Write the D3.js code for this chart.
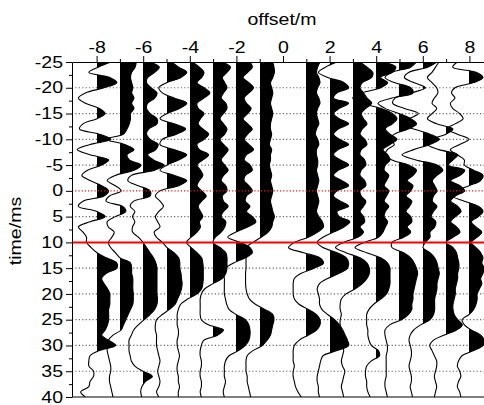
<!DOCTYPE html>
<html>
<head>
<meta charset="UTF-8">
<title>offset / time wiggle plot</title>
<script src="https://cdn.jsdelivr.net/npm/d3@7"></script>
<style>
  body { margin: 0; background: #fff; }
  svg text { font-family: "Liberation Sans", Arial, Helvetica, sans-serif; }
</style>
</head>
<body>
<svg id="chart" width="484" height="405"></svg>
<script>
// sample grid: one value per ms, starting at -25 ms
var tStart = -25, tStep = 1;

// trace offsets (m)
var offsets = [-8, -7, -6, -5, -4, -3, -2, -1, 1, 2, 3, 4, 5, 6, 7, 8];

// amplitudes, in offset units, t = -25 .. 40 ms
var trM8 = [0.6,0.05,-0.35,0.55,0.85,0.3,-0.5,-0.8,-0.5,0.1,
  0.35,0.0,-0.6,-0.75,0.1,0.6,-0.3,-0.85,-0.3,0.5,
  0.2,-0.4,-0.65,-0.3,0.2,0.5,0.3,-0.6,-0.8,0.0,
  0.35,-0.3,-0.8,-0.6,-0.45,-0.45,-0.25,0.0,0.4,0.85,
  0.85,0.4,0.2,0.3,0.45,0.55,0.55,0.55,0.5,0.5,
  0.5,0.45,0.35,0.2,0.5,0.8,0.1,-0.3,-0.35,-0.35,
  -0.15,-0.15,-0.3,-0.35,-0.7,-0.5];
var trM7 = [0.7,0.65,0.5,0.45,0.5,0.55,0.5,0.6,0.5,0.6,
  0.45,0.45,0.4,0.3,0.15,-0.6,0.2,0.6,0.3,0.4,
  0.9,0.6,-0.2,-0.55,-0.2,0.05,-0.45,-0.6,0.1,0.25,
  -0.2,-0.55,-0.5,-0.25,-0.35,-0.5,-0.4,-0.2,0.0,0.45,
  0.5,0.5,0.55,0.55,0.55,0.57,0.57,0.55,0.45,0.35,
  0.25,0.15,0.05,-0.3,-0.5,-0.55,-0.55,-0.5,-0.45,-0.4,
  -0.4,-0.45,-0.45,-0.4,-0.35,-0.3];
var trM6 = [0.3,0.7,0.5,0.2,0.15,0.35,0.6,0.5,0.2,0.15,
  0.3,0.6,0.6,0.25,0.15,0.3,0.65,0.55,0.2,0.45,
  0.9,0.5,-0.5,-0.65,-0.2,0.3,0.3,-0.4,-0.55,-0.35,
  -0.45,-0.35,-0.45,-0.45,-0.2,0.0,0.15,0.3,0.45,0.55,
  0.6,0.6,0.6,0.6,0.6,0.6,0.62,0.6,0.5,0.3,
  0.05,-0.2,-0.4,-0.5,-0.6,-0.6,-0.6,-0.55,-0.5,-0.35,
  0.0,0.4,0.1,-0.05,-0.1,-0.05];
var trM5 = [0.2,0.5,0.85,0.6,0.0,-0.35,-0.2,0.3,0.85,0.55,
  0.0,-0.3,0.3,0.8,0.4,-0.2,-0.3,0.3,0.85,0.5,
  0.0,-0.3,0.3,0.85,0.5,-0.3,-0.5,-0.3,-0.15,-0.35,
  -0.5,-0.4,-0.3,-0.55,-0.45,-0.2,0.0,0.3,0.5,0.55,
  0.55,0.6,0.62,0.65,0.62,0.55,0.45,0.35,0.1,-0.2,
  -0.45,-0.5,-0.5,-0.45,-0.45,-0.45,-0.4,-0.35,-0.3,-0.35,
  -0.4,-0.35,-0.3,-0.35,-0.45,-0.35];
var trM4 = [0.1,0.4,0.6,0.5,0.3,0.6,0.85,0.6,0.3,0.35,
  0.6,0.45,0.35,0.55,0.8,0.6,0.3,0.4,0.8,0.55,
  0.3,0.45,0.55,0.4,0.3,0.5,0.7,0.5,0.35,0.45,
  0.55,0.4,0.45,0.3,0.05,-0.15,0.05,0.3,0.5,0.55,
  0.57,0.57,0.57,0.55,0.5,0.3,-0.1,-0.4,-0.5,-0.55,
  -0.55,-0.55,-0.5,-0.5,-0.55,-0.55,-0.5,-0.45,-0.5,-0.55,
  -0.55,-0.5,-0.5,-0.45,-0.5,-0.5];
var trM3 = [0.4,0.75,0.6,0.4,0.5,0.6,0.45,0.35,0.55,0.6,
  0.45,0.3,0.45,0.6,0.5,0.3,0.45,0.65,0.5,0.35,
  0.5,0.65,0.45,0.35,0.55,0.6,0.4,0.45,0.65,0.45,
  0.35,0.55,0.5,0.35,0.1,0.0,0.3,0.55,0.6,0.6,
  0.6,0.55,0.4,0.0,-0.35,-0.5,-0.55,-0.55,-0.55,-0.55,
  -0.5,-0.2,0.45,0.2,-0.4,-0.5,-0.55,-0.55,-0.5,-0.5,
  -0.55,-0.55,-0.5,-0.5,-0.55,-0.5];
var trM2 = [0.6,0.7,0.5,0.3,0.55,0.75,0.55,0.35,0.45,0.65,
  0.5,0.3,0.5,0.7,0.5,0.35,0.55,0.75,0.45,0.35,
  0.6,0.7,0.4,0.35,0.55,0.7,0.45,0.4,0.6,0.45,
  0.7,0.85,0.5,0.0,-0.35,0.2,0.6,0.7,0.4,-0.1,
  -0.45,-0.55,-0.5,-0.5,-0.5,-0.5,-0.45,-0.4,-0.3,0.0,
  0.4,0.55,0.6,0.6,0.55,0.4,0.1,-0.3,-0.45,-0.5,
  -0.5,-0.5,-0.45,-0.5,-0.55,-0.5];
var trM1 = [0.55,0.6,0.62,0.55,0.45,0.5,0.55,0.5,0.45,0.5,
  0.55,0.5,0.45,0.45,0.5,0.45,0.4,0.5,0.45,0.45,
  0.4,0.45,0.5,0.45,0.5,0.55,0.5,0.45,0.5,0.55,
  0.62,0.55,0.5,0.35,0.05,-0.3,-0.6,-0.6,-0.6,-0.6,
  -0.6,-0.62,-0.62,-0.62,-0.6,-0.55,-0.45,-0.2,0.2,0.55,
  0.6,0.55,0.5,0.45,0.3,0.1,-0.3,-0.55,-0.6,-0.6,
  -0.6,-0.55,-0.55,-0.5,-0.45,-0.4];
var trP1 = [0.6,0.5,0.45,0.55,0.6,0.5,0.45,0.55,0.6,0.5,
  0.45,0.5,0.55,0.45,0.4,0.5,0.55,0.45,0.45,0.5,
  0.5,0.45,0.5,0.55,0.5,0.45,0.5,0.55,0.5,0.45,
  0.55,0.7,0.75,0.5,0.1,-0.5,-0.75,-0.1,0.6,0.75,
  0.35,-0.2,-0.5,-0.55,-0.55,-0.55,-0.5,-0.3,0.1,0.45,
  0.6,0.6,0.45,0.1,-0.3,-0.5,-0.55,-0.55,-0.55,-0.5,
  -0.55,-0.55,-0.5,-0.45,-0.35,-0.2];
var trP2 = [0.3,-0.2,-0.5,-0.1,0.6,0.8,0.3,0.15,0.8,0.4,
  0.15,0.4,0.8,0.35,0.15,0.4,0.8,0.35,0.15,0.45,
  0.8,0.35,0.15,0.5,0.8,0.3,0.15,0.45,0.8,0.3,
  0.4,0.85,0.6,0.15,-0.3,-0.55,-0.3,0.3,0.7,0.8,
  0.75,0.4,-0.1,-0.45,-0.55,-0.5,-0.45,-0.45,-0.35,-0.1,
  0.2,0.4,0.55,0.65,0.75,0.8,0.3,-0.3,-0.4,-0.45,
  -0.5,-0.55,-0.55,-0.5,-0.5,-0.45];
var trP3 = [0.3,0.6,0.85,0.8,0.4,0.3,0.45,0.6,0.8,0.55,
  0.35,0.45,0.6,0.4,0.3,0.5,0.6,0.35,0.3,0.5,
  0.55,0.35,0.3,0.5,0.55,0.3,0.35,0.55,0.45,0.3,
  0.45,0.5,0.3,0.45,0.2,-0.4,-0.75,-0.3,0.3,0.6,
  0.7,0.7,0.6,0.4,0.1,-0.3,-0.5,-0.55,-0.55,-0.5,
  -0.55,-0.55,-0.5,-0.5,-0.5,-0.45,-0.4,-0.45,-0.5,-0.45,
  -0.35,-0.4,-0.45,-0.5,-0.45,-0.4];
var trP4 = [0.3,0.85,0.7,0.2,0.5,0.2,-0.6,-1.0,-0.6,0.2,
  0.7,0.9,0.7,0.4,0.6,0.9,0.6,0.3,0.5,0.6,
  0.4,0.35,0.55,0.45,0.35,0.55,0.45,0.35,0.55,0.4,
  0.35,0.5,0.4,0.3,0.1,-0.5,-0.9,-0.4,0.2,0.5,
  0.6,0.6,0.6,0.6,0.55,0.45,0.2,-0.1,-0.3,-0.4,
  -0.4,-0.4,-0.35,-0.35,-0.3,-0.2,0.1,0.15,-0.2,-0.4,
  -0.45,-0.45,-0.4,-0.4,-0.35,-0.25];
var trP5 = [0.75,0.5,-0.3,-0.6,-0.2,0.5,0.6,-0.3,-0.9,-0.6,
  0.0,0.5,0.75,0.4,-0.2,-0.4,-0.2,-0.5,-0.6,-0.3,
  0.4,0.75,0.6,0.35,0.6,0.5,0.3,0.55,0.45,0.3,
  0.5,0.55,0.35,0.5,0.2,-0.3,-0.3,0.2,0.5,0.65,
  0.75,0.8,0.75,0.7,0.65,0.6,0.6,0.55,0.55,0.4,
  0.1,-0.4,-0.6,-0.6,-0.55,-0.5,-0.5,-0.55,-0.55,-0.55,
  -0.55,-0.55,-0.6,-0.6,-0.55,-0.5];
var trP6 = [0.6,0.2,-0.6,-0.8,-0.4,0.1,-0.5,-1.2,-1.3,-0.8,
  -0.2,-0.6,-1.0,-0.4,0.3,0.7,0.3,-0.4,-0.9,-0.3,
  0.6,0.85,0.6,0.4,0.5,0.6,0.45,0.4,0.6,0.45,
  0.35,0.55,0.5,0.3,0.3,0.1,0.0,0.3,0.5,0.6,
  0.65,0.7,0.65,0.6,0.6,0.55,0.5,0.5,0.5,0.45,
  0.3,-0.1,-0.4,-0.55,-0.6,-0.55,-0.5,-0.5,-0.55,-0.6,
  -0.55,-0.5,-0.5,-0.55,-0.5,-0.45];
var trP7 = [-0.3,-0.45,-0.6,-0.8,-0.6,-0.4,-0.35,-0.5,-0.6,-0.4,
  -0.6,-0.8,-0.4,0.3,0.0,-0.6,-0.8,-0.3,0.5,0.3,
  0.1,0.8,0.6,0.2,0.6,0.8,0.4,0.2,0.5,0.65,
  0.4,0.2,0.45,0.6,0.3,0.0,0.3,0.45,0.5,0.55,
  0.55,0.5,0.5,0.45,0.4,0.4,0.35,0.3,0.3,0.35,
  0.5,0.7,0.45,-0.1,-0.55,-0.7,-0.6,-0.5,-0.4,-0.4,
  -0.45,-0.5,-0.45,-0.4,-0.45,-0.5];
var trP8 = [-0.5,-0.7,0.3,0.6,0.2,-0.6,-0.75,-0.6,-0.8,-0.7,
  -0.4,-0.25,-0.6,-0.95,-0.5,0.0,-0.4,-0.8,-0.5,-0.2,
  -0.2,0.2,0.6,0.5,0.0,-0.5,-0.7,-0.2,0.4,0.6,
  0.4,0.1,0.3,0.55,0.35,0.1,0.3,0.5,0.6,0.55,
  0.65,0.6,0.5,0.55,0.45,0.35,0.35,0.3,0.2,0.0,
  -0.3,-0.2,0.1,0.5,0.65,0.6,0.2,-0.3,-0.45,-0.5,
  -0.4,-0.35,-0.45,-0.5,-0.4,-0.35];

var traces = [trM8, trM7, trM6, trM5, trM4, trM3, trM2, trM1,
              trP1, trP2, trP3, trP4, trP5, trP6, trP7, trP8];

// axes ticks
var xTicks = [-8, -6, -4, -2, 0, 2, 4, 6, 8];
var xMinor = [-7, -5, -3, -1, 1, 3, 5, 7];
var yTicks = [-25, -20, -15, -10, -5, 0, 5, 10, 15, 20, 25, 30, 35, 40];
var yMinor = [-22.5, -17.5, -12.5, -7.5, -2.5, 2.5, 7.5, 12.5, 17.5, 22.5, 27.5, 32.5, 37.5];
var gridTimes = [-20, -15, -10, -5, 5, 15, 20, 25, 30, 35];
var zeroTime = 0, pickTime = 10;

var L = 72, R = 484, T = 62, B = 397;
var x = d3.scaleLinear().domain([-9.056, 8.627]).range([L, R]);
var y = d3.scaleLinear().domain([-25, 40]).range([T, B]);

var svg = d3.select("#chart");
var defs = svg.append("defs");
defs.append("clipPath").attr("id", "plotClip")
  .append("rect").attr("x", L).attr("y", T).attr("width", R - L).attr("height", B - T);

var plot = svg.append("g").attr("clip-path", "url(#plotClip)");

// dotted grid
plot.selectAll("line.grid").data(gridTimes).enter().append("line")
  .attr("class", "grid")
  .attr("x1", L).attr("x2", R)
  .attr("y1", function(d){ return y(d); })
  .attr("y2", function(d){ return y(d); })
  .attr("stroke", "#666").attr("stroke-width", 1.2).attr("stroke-dasharray", "1.2,2.2");

var curve = d3.curveCatmullRom.alpha(0.5);

traces.forEach(function(tr, i) {
  var off = offsets[i];
  // snap the baseline to a pixel edge so the clip leaves no hairline
  var base = Math.round(x(off));
  var ax = function(a){ return base + (x(off + a) - x(off)); };
  var pts = tr.map(function(a, k){ return [tStart + k * tStep, a]; });

  // keep only the positive side for the fill
  defs.append("clipPath").attr("id", "pos" + i)
    .append("rect").attr("x", base).attr("y", T).attr("width", R - base + 20).attr("height", B - T);

  var area = d3.area().curve(curve)
    .y(function(d){ return y(d[0]); })
    .x0(base)
    .x1(function(d){ return ax(d[1]); });

  plot.append("g").attr("clip-path", "url(#pos" + i + ")")
    .append("path").attr("d", area(pts)).attr("fill", "#000");

  var line = d3.line().curve(curve)
    .x(function(d){ return ax(d[1]); })
    .y(function(d){ return y(d[0]); });

  plot.append("path").attr("d", line(pts))
    .attr("fill", "none").attr("stroke", "#000").attr("stroke-width", 1.1);
});

// red reference lines
plot.append("line")
  .attr("x1", L).attr("x2", R).attr("y1", y(zeroTime)).attr("y2", y(zeroTime))
  .attr("stroke", "#e31a1c").attr("stroke-width", 1.2).attr("stroke-dasharray", "1.2,2");
plot.append("line")
  .attr("x1", L).attr("x2", R).attr("y1", y(pickTime)).attr("y2", y(pickTime))
  .attr("stroke", "#ff0000").attr("stroke-width", 2);

// axes
var fmt = function(d){ return String(d); };
svg.append("g").attr("transform", "translate(0," + T + ")")
  .call(d3.axisTop(x).tickValues(xTicks).tickFormat(fmt).tickSize(6).tickSizeOuter(0).tickPadding(3));
svg.append("g").attr("transform", "translate(0," + T + ")")
  .call(d3.axisTop(x).tickValues(xMinor).tickFormat("").tickSize(3).tickSizeOuter(0))
  .select(".domain").remove();
svg.append("g").attr("transform", "translate(" + L + ",0)")
  .call(d3.axisLeft(y).tickValues(yTicks).tickFormat(fmt).tickSize(6).tickSizeOuter(0).tickPadding(3));
svg.append("g").attr("transform", "translate(" + L + ",0)")
  .call(d3.axisLeft(y).tickValues(yMinor).tickFormat("").tickSize(3).tickSizeOuter(0))
  .select(".domain").remove();

svg.append("line").attr("x1", L).attr("x2", R).attr("y1", B).attr("y2", B)
  .attr("stroke", "#000").attr("stroke-width", 1);

svg.selectAll(".tick text").attr("font-size", 16).attr("fill", "#000")
  .attr("font-family", "Liberation Sans, Arial, sans-serif");
svg.selectAll(".domain, .tick line").attr("stroke", "#000");

svg.append("text").attr("x", 282).attr("y", 25).attr("text-anchor", "middle")
  .attr("font-size", 16).text("offset/m");
svg.append("text").attr("transform", "translate(21,231) rotate(-90)")
  .attr("text-anchor", "middle").attr("font-size", 16).text("time/ms");

// the source lettering is wider than Liberation Sans: stretch every label
svg.selectAll("text").each(function() {
  var len = this.getComputedTextLength();
  if (len > 0) d3.select(this).attr("textLength", len * 1.22).attr("lengthAdjust", "spacingAndGlyphs");
});
</script>
</body>
</html>
